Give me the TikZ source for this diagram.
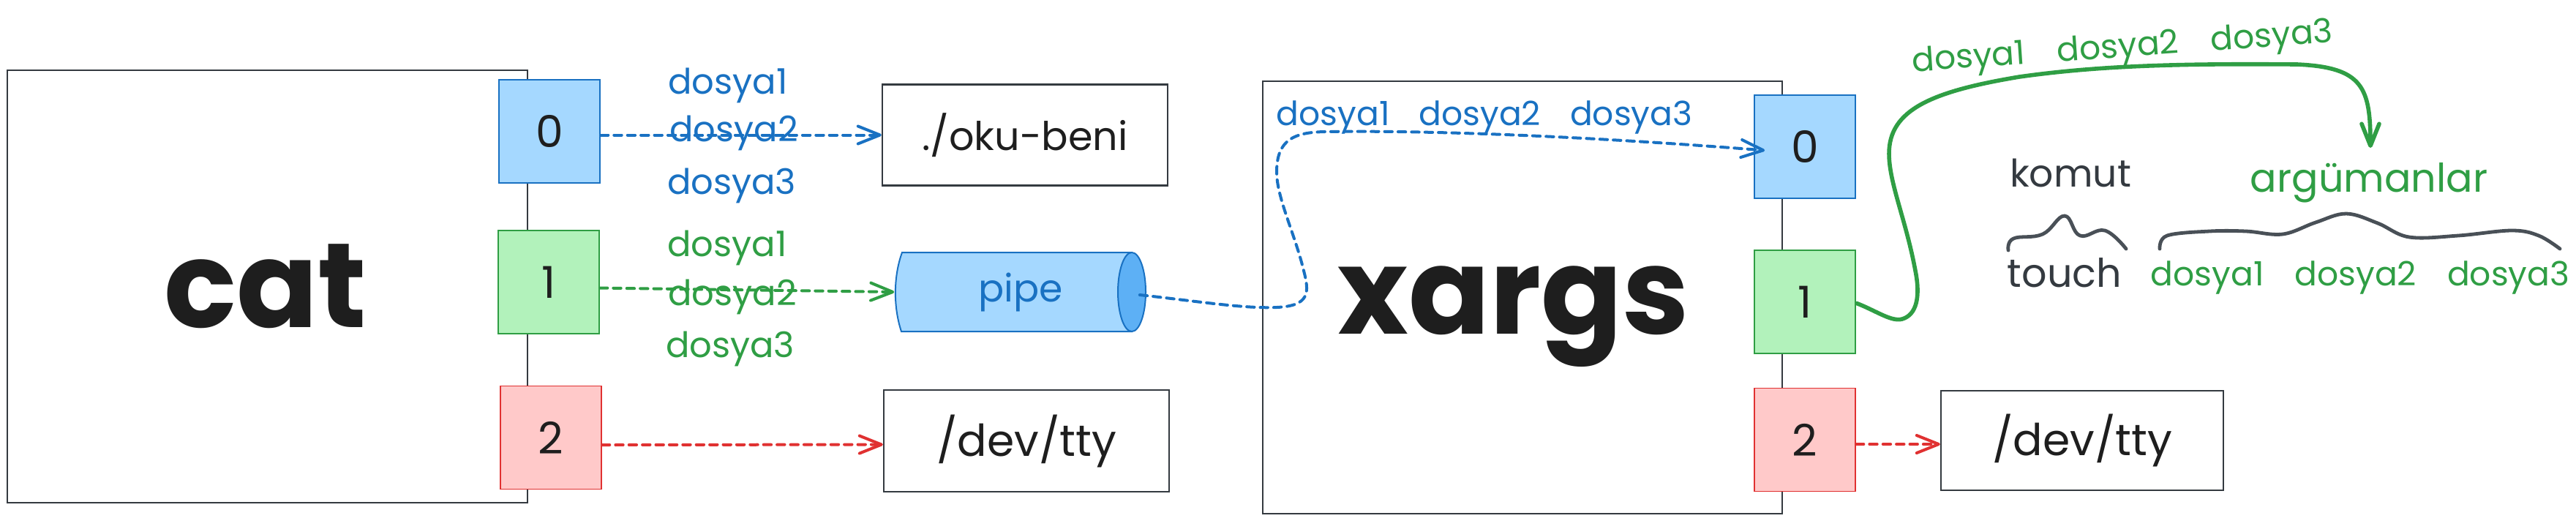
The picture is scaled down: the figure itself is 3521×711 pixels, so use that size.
\documentclass[tikz,border=0pt]{standalone}
\usepackage{fontspec}
\setmainfont{Poppins}
\usetikzlibrary{arrows.meta,calc}
\definecolor{ink}{HTML}{1E1E1E}
\definecolor{boxline}{HTML}{343A40}
\definecolor{bstroke}{HTML}{1971C2}
\definecolor{bfill}{HTML}{A5D8FF}
\definecolor{gstroke}{HTML}{2F9E44}
\definecolor{gfill}{HTML}{B2F2BB}
\definecolor{rstroke}{HTML}{E03131}
\definecolor{rfill}{HTML}{FFC9C9}
\definecolor{pipeend}{HTML}{5DB0F5}
\definecolor{squigc}{HTML}{495057}
\begin{document}
\begin{tikzpicture}[x=0.25pt, y=-0.25pt,
  procbox/.style={draw=boxline, line width=0.6pt, fill=white, inner sep=0pt, minimum width=177.75pt, minimum height=147.75pt},
  fdbox/.style={line width=0.45pt, inner sep=0pt, minimum width=34.5pt, minimum height=35.25pt, font=\fontsize{15}{15}\selectfont, text=ink},
  fdzero/.style={fdbox, draw=bstroke, fill=bfill},
  fdone/.style={fdbox, draw=gstroke, fill=gfill},
  fdtwo/.style={fdbox, draw=rstroke, fill=rfill},
  filebox/.style={draw=boxline, line width=0.6pt, fill=white, inner sep=0pt, minimum width=97.5pt, minimum height=34.5pt, text=ink},
  bigword/.style={font=\fontsize{41}{41}\selectfont\bfseries, text=ink, anchor=base, inner sep=0pt},
  lbl/.style={font=\fontsize{12}{12}\selectfont, anchor=base, inner sep=0pt},
  grouplbl/.style={font=\fontsize{11.4}{11.4}\selectfont, anchor=base, inner sep=0pt},
  flow/.style={line width=1pt, dash pattern=on 2.6pt off 2pt, line cap=round, -{Straight Barb[length=7.5pt, width=6pt, round]}},
  squig/.style={draw=squigc, line width=1.2pt, line cap=round, line join=round},
]
\fill[white] (0,0) rectangle (3521,711);
\useasboundingbox (0,0) rectangle (3521,711);

% process boxes
\node[procbox] (cat) at (365.5,391.5) {};
\node[procbox, minimum width=177.5pt] (xargs) at (2081,406.5) {};
\node[bigword] (cattext) at (363,447) {cat};
\node[bigword] (xargstext) at (2069,456) {xargs};

% fd boxes
\node[fdzero] (c0) at (751,179.5) {0};
\node[fdone]  (c1) at (750,385.5) {1};
\node[fdtwo]  (c2) at (753,598) {2};
\node[fdzero] (x0) at (2467,200.5) {0};
\node[fdone]  (x1) at (2467,412.5) {1};
\node[fdtwo]  (x2) at (2467,601) {2};

% file boxes
\node[filebox, font=\fontsize{13.5}{13.5}\selectfont] (oku) at (1401,184.5) {./oku-beni};
\node[filebox, minimum height=34.75pt, font=\fontsize{15}{15}\selectfont] (t1) at (1403,602.5) {/dev/tty};
\node[filebox, minimum width=96.5pt, minimum height=34pt, font=\fontsize{15}{15}\selectfont] (t2) at (2846,602) {/dev/tty};

% pipe
\filldraw[fill=bfill, draw=bstroke, line width=0.5pt] (1233,345) -- (1547,345) -- (1547,453) -- (1232,453) .. controls (1221,420) and (1221,378) .. cycle;
\filldraw[fill=pipeend, draw=bstroke, line width=0.5pt] (1547,399) ellipse [x radius=19, y radius=54];
\node[inner sep=0pt, minimum width=86pt, minimum height=27pt, text=bstroke, font=\fontsize{13}{13}\selectfont] (pipe) at (1395,399) {pipe};

% connectors
\draw[flow, bstroke] (c0.east |- oku.west) -- (oku.west);
\draw[flow, gstroke] ($(c1.east)+(0,8)$) -- (pipe.west);
\draw[flow, rstroke] ($(c2.east)+(0,10)$) -- ($(t1.west)+(0,5)$);
\draw[flow, rstroke] ($(x2.east)+(0,6)$) -- ($(t2.west)+(0,5)$);

\coordinate (pe) at ($(pipe.east)+(-10,4)$);
\coordinate (xin) at ($(x0.west)+(15,5)$);
\draw[flow, bstroke] (pe) .. controls (1640,412) and (1700,422) .. (1745,420)
  .. controls (1790,418) and (1790,400) .. (1782,370)
  .. controls (1770,320) and (1745,270) .. (1745,235)
  .. controls (1745,190) and (1770,181) .. (1810,180)
  .. controls (1950,178) and (2150,185) .. (xin);

\coordinate (argtip) at (3240,202);
\draw[gstroke, line width=1.4pt, line cap=round, -{Straight Barb[length=7.5pt, width=6pt, round]}]
  ($(x1.east)+(1,2)$) .. controls (2565,425) and (2585,440) .. (2600,436)
  .. controls (2620,430) and (2625,405) .. (2618,370)
  .. controls (2605,300) and (2582,250) .. (2582,210)
  .. controls (2582,150) and (2640,125) .. (2760,105)
  .. controls (2880,88) and (3000,87) .. (3140,88)
  .. controls (3230,92) and (3240,120) .. (argtip);

% labels
\node[lbl, text=bstroke] (b1) at (995,128) {dosya1};
\node[lbl, text=bstroke] (b2) at (1003,193) {dosya2};
\node[lbl, text=bstroke] (b3) at (1000,265) {dosya3};
\node[lbl, text=gstroke] (g1) at (994,350) {dosya1};
\node[lbl, text=gstroke] (g2) at (1001,417) {dosya2};
\node[lbl, text=gstroke] (g3) at (998,488) {dosya3};
\node[grouplbl, text=bstroke] (xb) at (2029,171) {dosya1\hspace{10pt}dosya2\hspace{10pt}dosya3};
\node[grouplbl, text=gstroke, rotate=4] (gtop) at (2902,78) {dosya1\hspace{11pt}dosya2\hspace{11pt}dosya3};

% right explanation
\node[lbl, font=\fontsize{13}{13}\selectfont, text=boxline] (komut) at (2830,255) {komut};
\node[lbl, font=\fontsize{13.5}{13.5}\selectfont, text=gstroke] (arg) at (3238,262) {argümanlar};
\node[lbl, font=\fontsize{13.5}{13.5}\selectfont, text=boxline] (touch) at (2822,392) {touch};
\node[grouplbl, text=gstroke] (gbot) at (3226,390) {dosya1\hspace{10.5pt}dosya2\hspace{10.5pt}dosya3};
\draw[squig] plot[smooth, tension=0.7] coordinates {(2745,342) (2752,326) (2792,320) (2822,295) (2843,322) (2877,315) (2906,340)};
\draw[squig] plot[smooth, tension=0.6] coordinates {(2952,340) (2962,322) (3020,316) (3070,316) (3120,320) (3165,304) (3207,292) (3250,305) (3293,324) (3360,322) (3433,315) (3470,322) (3499,340)};
\end{tikzpicture}
\end{document}
